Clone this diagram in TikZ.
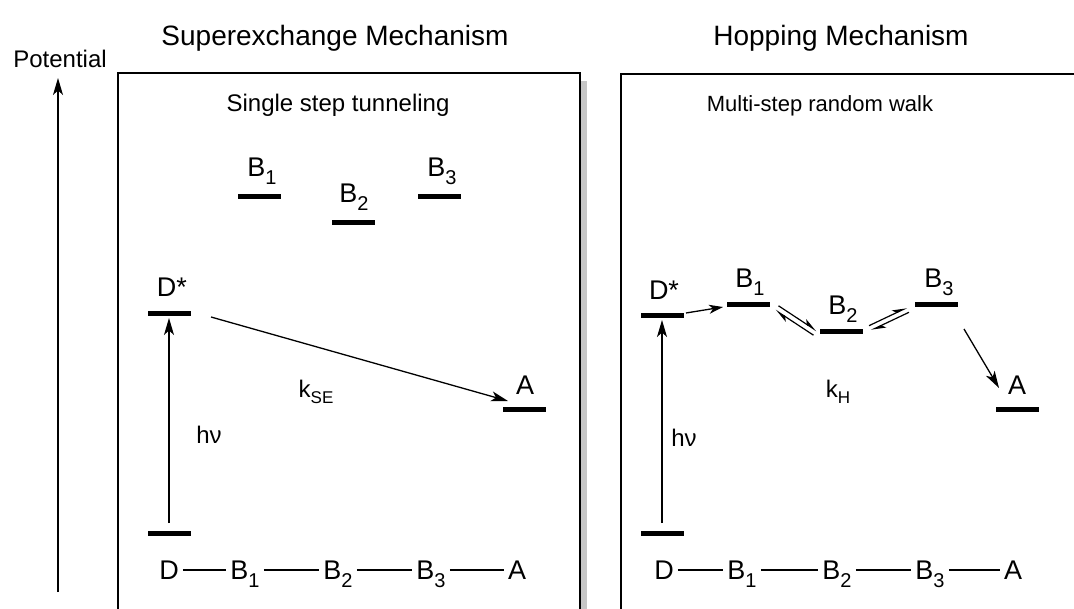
\documentclass[tikz,border=0pt]{standalone}
\usepackage{fontspec}
\setmainfont{Liberation Sans}
\usetikzlibrary{arrows.meta}
\newcommand\fs[1]{\fontsize{#1}{#1}\selectfont}
\newcommand\lsub[1]{\raisebox{-8pt}{\fs{20}#1}}
\newcommand\ksub[1]{\raisebox{-6pt}{\fs{17}#1}}
\begin{document}
\begin{tikzpicture}[x=1pt,y=-1pt,
  bar/.style={fill=black,inner sep=0pt,minimum width=43pt,minimum height=5pt},
  lbl/.style={font=\fs{27},inner sep=0pt,anchor=base},
  chain/.style={font=\fs{27},inner sep=0pt,inner xsep=4pt,anchor=base,text height=18pt,text depth=0pt},
  small/.style={font=\fs{22},inner sep=0pt,anchor=base},
  title/.style={font=\fs{28},inner sep=0pt,anchor=base},
  arr/.style={-{Stealth[length=17pt,width=10pt,inset=4.5pt]},line width=1.3pt},
  harp/.style={-{Stealth[length=13pt,width=8pt,inset=3.5pt,harpoon]},line width=1.2pt},
  frame/.style={line width=1.3pt},
  link/.style={line width=1.2pt}]
\useasboundingbox (0,0) rectangle (1074,609);

% titles
\node[title] (t1) at (335,46) {Superexchange Mechanism};
\node[title] (t2) at (841,46) {Hopping Mechanism};
\node[small,font=\fs{24}] (pot) at (60,68) {Potential};

% potential axis
\coordinate (pb) at (58,592);
\coordinate (pt) at (58,78);
\draw[arr] (pb) -- (pt);

% frames
\fill[gray!45] (581,81) rectangle (587,610);
\draw[frame] (118,610) |- (580,73) -- (580,610);
\draw[frame] (621,610) |- (1076,74);

\node[small,font=\fs{24}] (s1) at (338,112) {Single step tunneling};
\node[small] (s2) at (820,112) {Multi-step random walk};

% ---------- left panel levels ----------
\node[bar] (LB1) at (259.5,197) {};
\node[bar] (LB2) at (353,223) {};
\node[bar] (LB3) at (439.5,197) {};
\node[bar] (LDs) at (169,314) {};
\node[bar] (LA) at (524.5,410) {};
\node[bar] (LD) at (169,533) {};
\node[lbl] (LB1t) at (262,177) {B\lsub{1}};
\node[lbl] (LB2t) at (354,203) {B\lsub{2}};
\node[lbl] (LB3t) at (442,177) {B\lsub{3}};
\node[lbl] (LDst) at (172,297) {D*};
\node[lbl] (LAt) at (525,395) {A};

\coordinate (Lup0) at (169,523);
\coordinate (Lup1) at (169,318);
\draw[arr] (Lup0) -- (Lup1);
\node[small,font=\fs{24}] (Lhv) at (209,443) {hν};

\coordinate (Lk0) at (211,317);
\coordinate (Lk1) at (508,401);
\draw[arr] (Lk0) -- (Lk1);
\node[small,font=\fs{24}] (Lk) at (316,398) {k\ksub{SE}};

% left chain
\node[chain] (cD) at (169,579) {D};
\node[chain] (cB1) at (245,579) {B\lsub{1}};
\node[chain] (cB2) at (338,579) {B\lsub{2}};
\node[chain] (cB3) at (431,579) {B\lsub{3}};
\node[chain] (cA) at (517,579) {A};
\draw[link] (cD.east) -- (cB1.west);
\draw[link] (cB1.east) -- (cB2.west);
\draw[link] (cB2.east) -- (cB3.west);
\draw[link] (cB3.east) -- (cA.west);

% ---------- right panel levels ----------
\node[bar] (RDs) at (662,316) {};
\node[bar] (RB1) at (748,305) {};
\node[bar] (RB2) at (841.5,332) {};
\node[bar] (RB3) at (936.5,305) {};
\node[bar] (RA) at (1017.5,410) {};
\node[bar] (RD) at (662,533) {};
\node[lbl] (RDst) at (664,300) {D*};
\node[lbl] (RB1t) at (750,288) {B\lsub{1}};
\node[lbl] (RB2t) at (843,315) {B\lsub{2}};
\node[lbl] (RB3t) at (939,288) {B\lsub{3}};
\node[lbl] (RAt) at (1017,395) {A};

\coordinate (Rup0) at (662,523);
\coordinate (Rup1) at (662,320);
\draw[arr] (Rup0) -- (Rup1);
\node[small,font=\fs{24}] (Rhv) at (684,447) {hν};

\coordinate (Ra0) at (686,313);
\coordinate (Ra1) at (723,307);
\draw[arr,-{Stealth[length=14pt,width=9pt,inset=4pt]}] (Ra0) -- (Ra1);

\coordinate (e1s) at (777,308);
\coordinate (e1e) at (815,333);
\draw[harp] ([shift={(1.5,-2.2)}]e1s) -- ([shift={(1.5,-2.2)}]e1e);
\draw[harp] ([shift={(-1.5,2.2)}]e1e) -- ([shift={(-1.5,2.2)}]e1s);

\coordinate (e2s) at (870,328);
\coordinate (e2e) at (908,310);
\draw[harp] ([shift={(-1,-2.3)}]e2s) -- ([shift={(-1,-2.3)}]e2e);
\draw[harp] ([shift={(1,2.3)}]e2e) -- ([shift={(1,2.3)}]e2s);

\coordinate (Rb0) at (964,329);
\coordinate (Rb1) at (999,388);
\draw[arr] (Rb0) -- (Rb1);
\node[small,font=\fs{24}] (Rk) at (838,398) {k\ksub{H}};

% right chain
\node[chain] (dD) at (664,579) {D};
\node[chain] (dB1) at (742,579) {B\lsub{1}};
\node[chain] (dB2) at (837,579) {B\lsub{2}};
\node[chain] (dB3) at (930,579) {B\lsub{3}};
\node[chain] (dA) at (1013,579) {A};
\draw[link] (dD.east) -- (dB1.west);
\draw[link] (dB1.east) -- (dB2.west);
\draw[link] (dB2.east) -- (dB3.west);
\draw[link] (dB3.east) -- (dA.west);
\end{tikzpicture}
\end{document}
